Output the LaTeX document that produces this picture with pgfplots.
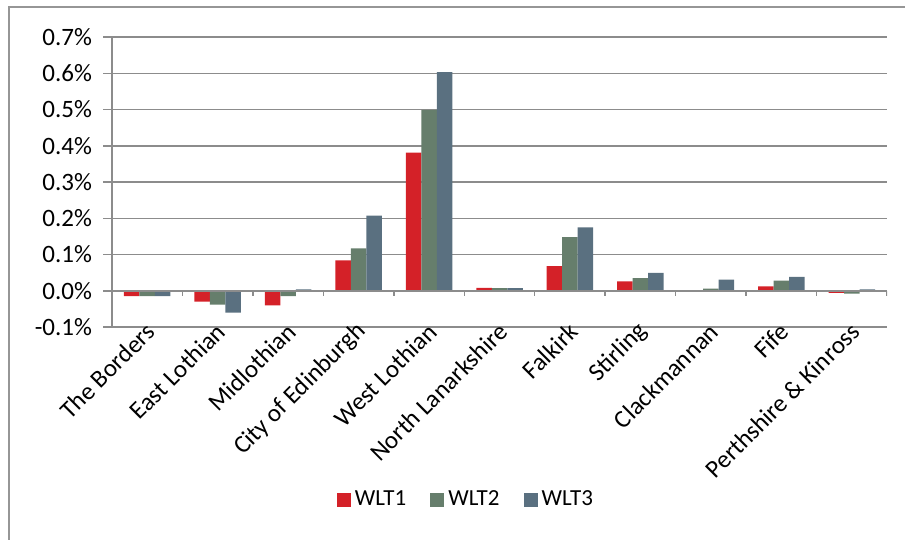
\documentclass[border=0pt]{standalone}
\usepackage{fontspec}
\setmainfont{Carlito}
\usepackage{pgfplots}
\pgfplotsset{compat=1.18}
\definecolor{wltred}{RGB}{212,33,40}
\definecolor{wltgreen}{RGB}{102,126,108}
\definecolor{wltblue}{RGB}{90,112,128}
\definecolor{gridgray}{RGB}{140,140,140}
\definecolor{framegray}{RGB}{150,150,150}
\begin{document}
\begin{tikzpicture}
\useasboundingbox (-56pt,-106.5pt) rectangle (396.5pt,163.5pt);
\begin{axis}[
  scale only axis, width=387.5pt, height=145pt,
  at={(0,0)}, anchor=south west,
  xmin=0.5, xmax=11.5, ymin=-0.1, ymax=0.7,
  axis y line*=left, axis x line*=bottom,
  x axis line style={draw=none},
  y axis line style={draw=gridgray, line width=0.75pt},
  ymajorgrids, grid style={draw=gridgray, line width=0.75pt},
  ytick={-0.1,0,0.1,0.2,0.3,0.4,0.5,0.6,0.7},
  yticklabel={\pgfmathprintnumber[fixed,fixed zerofill,precision=1,assume math mode=true]{\tick}\%},
  ytick style={draw=gridgray, line width=0.75pt},
  tick align=outside, major tick length=4.5pt,
  xtick={1,...,11},
  xticklabels={The Borders, East Lothian, Midlothian, City of Edinburgh, West Lothian, North Lanarkshire, Falkirk, Stirling, Clackmannan, Fife, Perthshire \& Kinross},
  xtick style={draw=none},
  xticklabel style={xshift=2.5pt, yshift=5pt, rotate=45, anchor=east, font=\fontsize{12.5}{15}\selectfont, inner sep=1pt},
  yticklabel style={font=\fontsize{12.5}{15}\selectfont, xshift=-2pt},
  ybar=0pt, bar width=7.75pt,
  legend columns=3,
  legend style={at={(0.458,-0.595)}, anchor=center, draw=none,
    font=\fontsize{11.5}{14}\selectfont,
    /tikz/every even column/.append style={column sep=10pt}},
  legend image code/.code={\fill[#1] (0pt,-3.5pt) rectangle (7pt,3.5pt);},
]
\addplot[fill=wltred, draw=none] coordinates {(1,-0.015) (2,-0.03) (3,-0.04) (4,0.084) (5,0.381) (6,0.008) (7,0.068) (8,0.026) (9,0) (10,0.012) (11,-0.006)};
\addplot[fill=wltgreen, draw=none] coordinates {(1,-0.015) (2,-0.038) (3,-0.015) (4,0.117) (5,0.499) (6,0.007) (7,0.148) (8,0.035) (9,0.006) (10,0.028) (11,-0.008)};
\addplot[fill=wltblue, draw=none] coordinates {(1,-0.015) (2,-0.06) (3,0.004) (4,0.207) (5,0.603) (6,0.007) (7,0.175) (8,0.049) (9,0.031) (10,0.038) (11,0.004)};
\legend{WLT1, WLT2, WLT3}
\draw[gridgray, line width=0.75pt] (axis cs:0.5,0) -- (axis cs:11.5,0);
\pgfplotsinvokeforeach{0,...,11}{\draw[gridgray, line width=0.75pt] (axis cs:#1.5,0) -- ++(0pt,-2.5pt);}
\end{axis}
\draw[framegray, line width=0.75pt] (-51.5pt,-110pt) -- (-51.5pt,160pt) -- (400pt,160pt);
\end{tikzpicture}
\end{document}
